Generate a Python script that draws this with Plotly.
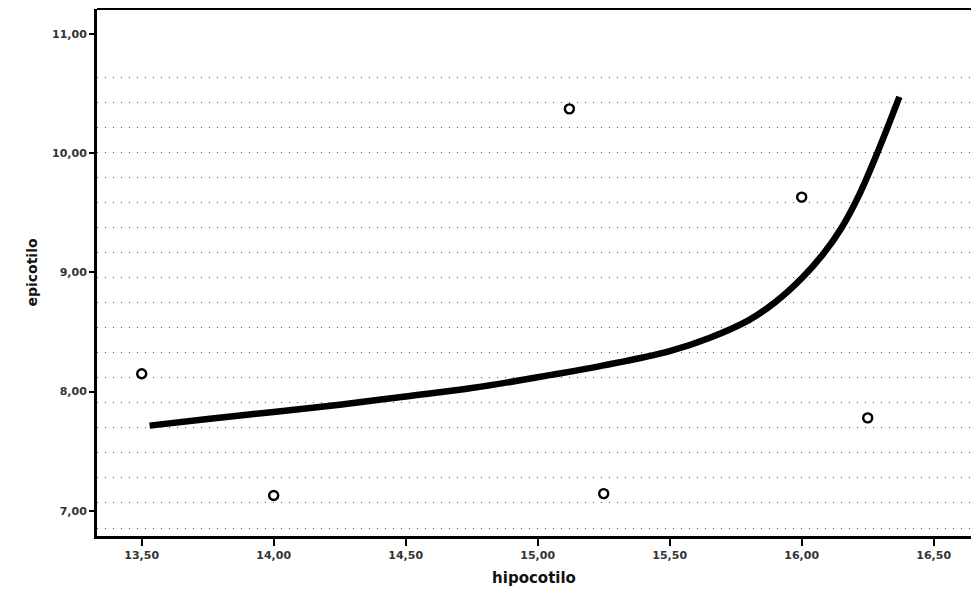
import plotly.graph_objects as go

# Observed data points
hipocotilo = [13.50, 14.00, 15.12, 15.25, 16.00, 16.25]
epicotilo = [8.15, 7.13, 10.37, 7.145, 9.63, 7.78]

# Fitted curve
curve_x = [13.53, 13.75, 14.00, 14.25, 14.50, 14.75, 15.00, 15.25, 15.50, 15.65,
           15.80, 15.90, 16.00, 16.08, 16.15, 16.22, 16.29, 16.37]
curve_y = [7.715, 7.77, 7.83, 7.89, 7.96, 8.03, 8.12, 8.22, 8.34, 8.45,
           8.60, 8.75, 8.95, 9.15, 9.37, 9.66, 10.02, 10.47]

x_ticks = [13.5, 14.0, 14.5, 15.0, 15.5, 16.0, 16.5]
x_labels = ["13,50", "14,00", "14,50", "15,00", "15,50", "16,00", "16,50"]
y_ticks = [7, 8, 9, 10, 11]
y_labels = ["7,00", "8,00", "9,00", "10,00", "11,00"]

# background dotted texture lines (style only)
texture_y = [10.637 - 0.21 * i for i in range(19)]

fig = go.Figure()
fig.add_trace(go.Scatter(x=curve_x, y=curve_y, mode="lines",
                         line=dict(color="black", width=6.5, shape="spline", smoothing=1.0),
                         showlegend=False, hoverinfo="skip"))
fig.add_trace(go.Scatter(x=hipocotilo, y=epicotilo, mode="markers",
                         marker=dict(symbol="circle-open", size=9, color="black",
                                     line=dict(width=2.4, color="black")),
                         showlegend=False))

tickfont = dict(size=11, color="#333", family="DejaVu Sans", weight="bold")
fig.update_layout(
    width=971, height=596,
    margin=dict(l=97, r=0, t=9, b=60),
    paper_bgcolor="white", plot_bgcolor="white",
    font=dict(family="DejaVu Sans", color="#222"),
    xaxis=dict(range=[13.3307, 16.6413], tickvals=x_ticks, ticktext=x_labels,
               showgrid=False, zeroline=False, showline=True, linecolor="black",
               linewidth=3, mirror=False, ticks="outside", ticklen=7, tickwidth=2,
               tickcolor="black", tickfont=tickfont,
               title=dict(text="<b>hipocotilo</b>", font=dict(size=15, color="#111"),
                          standoff=12)),
    yaxis=dict(range=[6.79, 11.207], tickvals=y_ticks, ticktext=y_labels,
               showgrid=False, zeroline=False, showline=True, linecolor="black",
               linewidth=3, ticks="outside", ticklen=5, tickwidth=2, tickcolor="black",
               tickfont=tickfont,
               title=dict(text="<b>epicotilo</b>", font=dict(size=14, color="#111"),
                          standoff=12),
               minor=dict(tickmode="array", tickvals=texture_y, showgrid=True,
                          gridcolor="#555", gridwidth=1, griddash="1px,7px")),
)

fig.add_shape(type="line", xref="paper", yref="paper", x0=0, x1=1, y0=1, y1=1,
              line=dict(color="black", width=2))

fig.write_html("out.html")
